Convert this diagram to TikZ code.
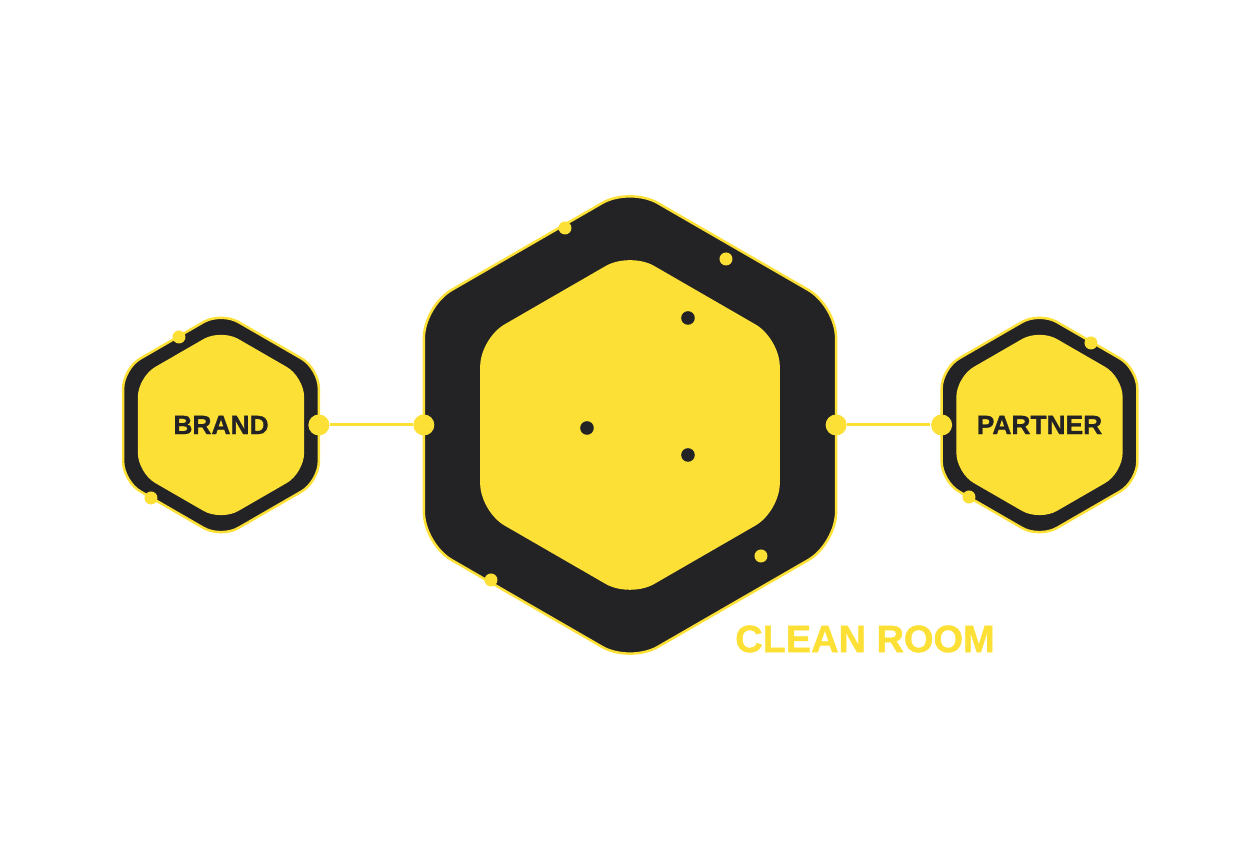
\documentclass[tikz,border=0pt]{standalone}
\usepackage{fontspec}
\setmainfont{Liberation Sans}
\newfontfamily\heavyfont{Liberation Sans Bold}[FakeBold=1.2]
\usepackage{tikz}
\usetikzlibrary{shapes.geometric}

\definecolor{HexYellow}{HTML}{FDE035}
\definecolor{HexDark}{HTML}{232325}

\tikzset{
  hexagon/.style={regular polygon, regular polygon sides=6, shape border rotate=30,
    inner sep=0pt, outer sep=0pt},
  ringhex/.style={hexagon, fill=HexDark, draw=HexYellow, line width=0.7pt},
  corehex/.style={hexagon, fill=HexYellow},
  port/.style={circle, fill=HexYellow, inner sep=0pt, minimum size=0.21cm},
  link/.style={HexYellow, line width=0.85pt},
  hexlabel/.style={font=\fontsize{7.5}{9}\heavyfont, text=HexDark},
}

\begin{document}
\begin{tikzpicture}
  \useasboundingbox (-6.3,-4.25) rectangle (6.3,4.25);

  % Clean room hexagon
  \node[ringhex, minimum size=4.76cm, rounded corners=0.32cm] (roomouter) at (0,0) {};
  \node[corehex, minimum size=3.46cm, rounded corners=0.28cm] (roominner) at (0,0) {};

  % Brand and partner hexagons
  \node[ringhex, minimum size=2.26cm, rounded corners=0.2cm] (brandouter) at (-4.09,0) {};
  \node[corehex, minimum size=1.92cm, rounded corners=0.2cm] (brandinner) at (-4.09,0) {};
  \node[hexlabel] (brandtext) at (brandinner) {BRAND};
  \node[ringhex, minimum size=2.26cm, rounded corners=0.2cm] (partnerouter) at (4.095,0) {};
  \node[corehex, minimum size=1.92cm, rounded corners=0.2cm] (partnerinner) at (4.095,0) {};
  \node[hexlabel] (partnertext) at (partnerinner) {PARTNER};

  % Ports and links
  \node[port] (brandport) at (brandouter.east) {};
  \node[port] (roomwest) at (roomouter.west) {};
  \node[port] (roomeast) at (roomouter.east) {};
  \node[port] (partnerport) at (partnerouter.west) {};
  \draw[link] (brandport) -- (roomwest);
  \draw[link] (roomeast) -- (partnerport);

  % Small dots on the rings
  \foreach \x/\y in {-0.65/1.97, 0.96/1.66, 1.31/-1.31, -1.39/-1.55,
                     -4.51/0.88, -4.79/-0.73, 4.61/0.82, 3.39/-0.72}
    \fill[HexYellow] (\x,\y) circle (0.065);

  % Dark dots inside the clean room
  \foreach \x/\y in {0.58/1.07, -0.43/-0.03, 0.58/-0.30}
    \fill[HexDark] (\x,\y) circle (0.068);

  % Label
  \node[font=\fontsize{10.8}{13}\heavyfont, text=HexYellow] (roomlabel) at (2.35,-2.14) {CLEAN ROOM};
\end{tikzpicture}
\end{document}
